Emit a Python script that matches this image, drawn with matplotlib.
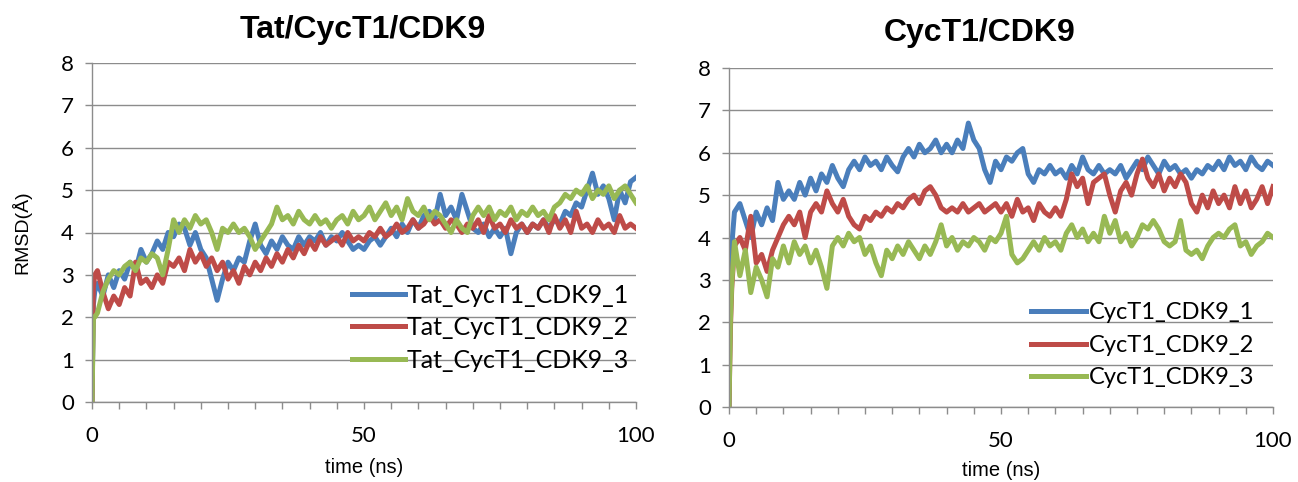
import numpy as np
import matplotlib
matplotlib.use("Agg")
import matplotlib.pyplot as plt
from matplotlib.ticker import MultipleLocator

# sampling: dense at the start, then every 1 ns
time_ns = np.concatenate([[0, 0.25, 0.5], np.arange(1, 101)])

tat_1 = [0, 2.3, 2.6,
         2.8, 2.5, 3.0, 2.7, 3.1, 2.9, 3.3, 3.1, 3.6, 3.3,
         3.5, 3.8, 3.6, 4.0, 3.9, 4.2, 4.1, 3.7, 4.0, 3.6,
         3.4, 2.9, 2.4, 2.9, 3.3, 3.1, 3.4, 3.3, 3.8, 4.2,
         3.7, 3.5, 3.8, 3.6, 3.9, 3.7, 3.6, 3.9, 3.7, 3.9,
         3.8, 4.0, 3.7, 3.9, 3.8, 4.0, 3.8, 3.6, 3.7, 3.6,
         3.8, 3.9, 3.7, 3.9, 4.1, 3.9, 4.2, 4.0, 4.3, 4.1,
         4.4, 4.5, 4.3, 4.9, 4.4, 4.6, 4.3, 4.9, 4.5, 4.1,
         4.0, 4.2, 3.9, 4.1, 3.9, 4.1, 3.5, 4.0, 4.2, 4.0,
         4.2, 4.1, 4.3, 4.1, 4.3, 4.2, 4.5, 4.4, 4.7, 4.6,
         5.0, 5.4, 4.9, 5.1, 4.8, 4.3, 5.0, 4.7, 5.2, 5.3]
tat_2 = [0, 2.7, 3.0,
         3.1, 2.6, 2.2, 2.5, 2.3, 2.7, 2.5, 3.3, 2.8, 2.9,
         2.7, 3.0, 2.8, 3.3, 3.2, 3.4, 3.1, 3.6, 3.3, 3.5,
         3.2, 3.4, 3.1, 3.3, 2.9, 3.1, 2.8, 3.2, 3.0, 3.3,
         3.1, 3.4, 3.2, 3.5, 3.3, 3.6, 3.4, 3.7, 3.5, 3.8,
         3.6, 3.9, 3.7, 3.8, 3.9, 3.7, 4.0, 3.8, 3.9, 3.8,
         4.0, 3.9, 4.1, 3.9, 4.0, 4.2, 4.0, 4.1, 4.3, 4.1,
         4.2, 4.4, 4.2, 4.3, 4.1, 4.3, 4.2, 4.0, 4.2, 4.1,
         4.3, 4.0, 4.4, 4.1, 4.2, 4.0, 4.3, 4.1, 4.2, 4.0,
         4.2, 4.1, 4.3, 4.0, 4.4, 4.1, 4.3, 4.0, 4.5, 4.1,
         4.2, 4.0, 4.3, 4.1, 4.2, 4.0, 4.4, 4.1, 4.2, 4.1]
tat_3 = [0, 2.0, 2.0,
         2.1, 2.6, 2.9, 3.1, 3.0, 3.2, 3.3, 3.1, 3.4, 3.3,
         3.5, 3.4, 3.0, 3.6, 4.3, 4.0, 4.3, 4.1, 4.4, 4.2,
         4.3, 4.0, 3.6, 4.1, 4.0, 4.2, 4.0, 4.1, 3.9, 3.6,
         3.8, 4.0, 4.2, 4.6, 4.3, 4.4, 4.2, 4.5, 4.3, 4.2,
         4.4, 4.2, 4.3, 4.1, 4.3, 4.4, 4.2, 4.5, 4.3, 4.4,
         4.6, 4.3, 4.5, 4.7, 4.4, 4.6, 4.3, 4.8, 4.5, 4.4,
         4.6, 4.3, 4.5, 4.4, 4.2, 4.0, 4.3, 4.1, 4.0, 4.4,
         4.6, 4.4, 4.6, 4.3, 4.5, 4.4, 4.6, 4.3, 4.5, 4.4,
         4.6, 4.4, 4.5, 4.3, 4.6, 4.7, 4.9, 4.8, 5.0, 4.9,
         5.1, 4.8, 5.0, 4.9, 5.1, 4.8, 5.0, 5.1, 4.9, 4.7]

cyc_1 = [0, 2.8, 3.8,
         4.6, 4.8, 4.4, 4.0, 4.6, 4.3, 4.7, 4.4, 5.3, 4.9,
         5.1, 4.9, 5.3, 5.0, 5.4, 5.1, 5.5, 5.3, 5.7, 5.4,
         5.2, 5.6, 5.8, 5.6, 5.9, 5.7, 5.8, 5.6, 5.9, 5.7,
         5.55, 5.9, 6.1, 5.9, 6.2, 6.0, 6.1, 6.3, 6.0, 6.2,
         6.0, 6.3, 6.1, 6.7, 6.3, 6.1, 5.6, 5.3, 5.8, 5.6,
         5.9, 5.8, 6.0, 6.1, 5.5, 5.3, 5.6, 5.5, 5.7, 5.5,
         5.6, 5.4, 5.7, 5.5, 5.9, 5.6, 5.5, 5.7, 5.5, 5.6,
         5.5, 5.7, 5.4, 5.6, 5.8, 5.6, 5.9, 5.7, 5.5, 5.8,
         5.6, 5.7, 5.5, 5.6, 5.4, 5.6, 5.5, 5.7, 5.6, 5.8,
         5.6, 5.9, 5.7, 5.8, 5.6, 5.9, 5.7, 5.6, 5.8, 5.7]
cyc_2 = [0, 1.8, 2.8,
         3.8, 4.0, 3.7, 4.5, 3.4, 3.6, 3.2, 3.7, 4.0, 4.3,
         4.5, 4.3, 4.6, 4.0, 4.6, 4.8, 4.6, 5.1, 4.8, 4.6,
         4.9, 4.5, 4.3, 4.2, 4.5, 4.4, 4.6, 4.5, 4.7, 4.6,
         4.8, 4.7, 4.9, 5.0, 4.8, 5.1, 5.2, 5.0, 4.7, 4.6,
         4.7, 4.6, 4.8, 4.6, 4.7, 4.8, 4.6, 4.7, 4.8, 4.6,
         4.8, 4.5, 4.9, 4.6, 4.7, 4.4, 4.8, 4.6, 4.5, 4.7,
         4.5, 4.9, 5.5, 5.2, 5.4, 4.8, 5.3, 5.4, 5.5, 5.0,
         4.6, 5.1, 5.3, 5.0, 5.5, 5.85, 5.4, 5.2, 5.5, 5.1,
         5.4, 5.2, 5.5, 5.3, 4.8, 4.6, 5.0, 4.7, 5.1, 4.8,
         5.0, 4.7, 5.2, 4.8, 5.1, 4.7, 4.9, 5.2, 4.8, 5.2]
cyc_3 = [0, 2.0, 2.9,
         3.9, 3.1, 3.7, 2.7, 3.3, 3.0, 2.6, 3.5, 3.3, 3.8,
         3.4, 3.9, 3.6, 3.8, 3.4, 3.7, 3.3, 2.8, 3.8, 4.0,
         3.8, 4.1, 3.9, 4.0, 3.6, 3.8, 3.4, 3.1, 3.7, 3.5,
         3.8, 3.6, 3.9, 3.7, 3.5, 3.8, 3.6, 3.9, 4.3, 3.8,
         4.0, 3.7, 3.9, 3.8, 4.0, 3.9, 3.7, 4.0, 3.9, 4.1,
         4.5, 3.6, 3.4, 3.5, 3.7, 3.9, 3.7, 4.0, 3.8, 3.9,
         3.7, 4.1, 4.3, 4.0, 4.2, 3.9, 4.1, 3.9, 4.5, 4.1,
         4.4, 3.9, 4.1, 3.8, 4.0, 4.3, 4.2, 4.4, 4.2, 3.9,
         3.8, 3.9, 4.4, 3.7, 3.6, 3.7, 3.5, 3.8, 4.0, 4.1,
         4.0, 4.2, 4.3, 3.8, 3.9, 3.6, 3.8, 3.9, 4.1, 4.0]

colors = ["#4A7EBB", "#BE4B48", "#98B954"]
tat_labels = ["Tat_CycT1_CDK9_1", "Tat_CycT1_CDK9_2", "Tat_CycT1_CDK9_3"]
cyc_labels = ["CycT1_CDK9_1", "CycT1_CDK9_2", "CycT1_CDK9_3"]

plt.rcParams["font.family"] = ["Lato", "DejaVu Sans"]
fig = plt.figure(figsize=(12.98, 4.82), dpi=100)
ax1 = fig.add_axes([92/1298, 1-402/482, 544/1298, 339/482])
ax2 = fig.add_axes([729/1298, 1-407/482, 544/1298, 339/482])

gray = "#8C8C8C"


def style(ax):
    ax.set_xlim(0, 100)
    ax.set_ylim(0, 8)
    ax.xaxis.set_major_locator(MultipleLocator(50))
    ax.xaxis.set_minor_locator(MultipleLocator(5))
    ax.yaxis.set_major_locator(MultipleLocator(1))
    ax.grid(axis="y", color=gray, lw=1.0)
    ax.set_axisbelow(True)
    for s in ["top", "right"]:
        ax.spines[s].set_visible(False)
    for s in ["left", "bottom"]:
        ax.spines[s].set_color(gray)
        ax.spines[s].set_linewidth(1.0)
    ax.tick_params(axis="x", which="both", length=5, width=1, color=gray,
                   direction="out", labelsize=16, pad=12)
    ax.tick_params(axis="y", length=5, width=1, color=gray, direction="out",
                   labelsize=16, pad=8)
    ax.set_xlabel("time (ns)", family="Liberation Sans", fontsize=14.5, va="top")


for ax, series, labels in [(ax1, [tat_1, tat_2, tat_3], tat_labels),
                           (ax2, [cyc_1, cyc_2, cyc_3], cyc_labels)]:
    style(ax)
    for y, c, lab in zip(series, colors, labels):
        ax.plot(time_ns, y, color=c, lw=3.6, label=lab, solid_joinstyle="round")

ax1.xaxis.set_label_coords(0.5, -0.165)
ax2.xaxis.set_label_coords(0.5, -0.158)
ax1.set_ylabel("RMSD(Å)", family="Liberation Sans", fontsize=14)
ax1.yaxis.set_label_coords(-0.112, 0.5)

ax1.legend(loc="upper left", bbox_to_anchor=(0.478, 0.349), frameon=False,
           fontsize=18, handlelength=2.1, handletextpad=0.1, labelspacing=0.38,
           borderpad=0, borderaxespad=0)
ax2.legend(loc="upper left", bbox_to_anchor=(0.555, 0.309), frameon=False,
           fontsize=17, handlelength=2.35, handletextpad=0.1, labelspacing=0.49,
           borderpad=0, borderaxespad=0)

fig.text(363/1298, 1-30/482, "Tat/CycT1/CDK9", ha="center", va="center",
         family="Liberation Sans", fontweight="bold", fontsize=23)
fig.text(980/1298, 1-33/482, "CycT1/CDK9", ha="center", va="center",
         family="Liberation Sans", fontweight="bold", fontsize=23)

fig.savefig("out.png", dpi=100)
